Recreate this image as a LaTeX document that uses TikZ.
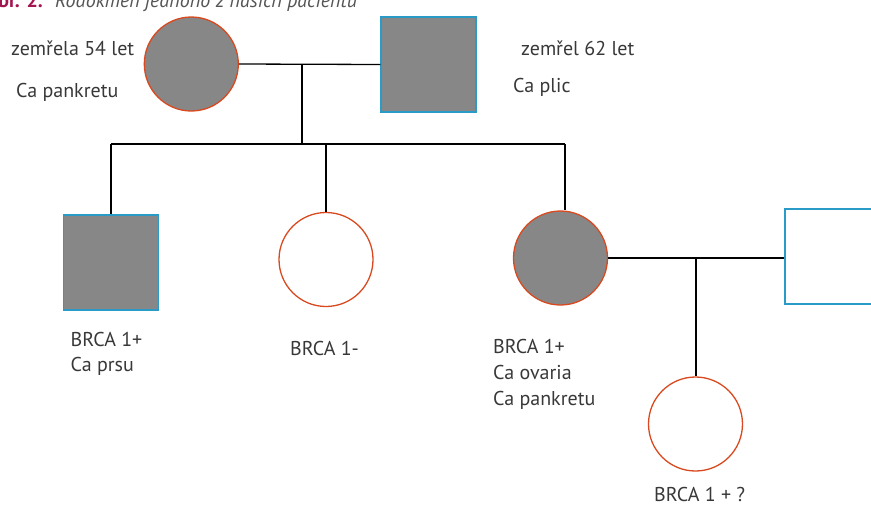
\documentclass[tikz,border=0pt]{standalone}
\usepackage{fontspec}
\setmainfont{PT Sans}
\definecolor{fem}{HTML}{D9491F}
\definecolor{mal}{HTML}{2A9BC6}
\definecolor{aff}{HTML}{878787}
\definecolor{txt}{HTML}{383838}
\definecolor{ttl}{HTML}{A3154F}
\definecolor{ttlg}{HTML}{555555}
\begin{document}
\begin{tikzpicture}[x=1pt,y=-1pt,
  female/.style={circle,draw=fem,line width=1.3pt,minimum size=94pt,inner sep=0pt},
  male/.style={rectangle,draw=mal,line width=1.3pt,minimum size=95pt,inner sep=0pt},
  affected/.style={fill=aff},
  link/.style={draw=black,line width=1.3pt},
  lbl/.style={anchor=base west,inner sep=0pt,text=txt,font=\fontsize{20}{24}\selectfont}]
\useasboundingbox (0,0) rectangle (871,504);
% title (cut off at top)
\node[anchor=base east,inner sep=0pt,text=ttl,font=\fontsize{20}{24}\selectfont\bfseries] (tnum) at (43,7) {Obr. 2.};
\node[anchor=base west,inner sep=0pt,text=ttlg,font=\fontsize{20}{24}\selectfont\itshape] (ttext) at (55,7) {Rodokmen jednoho z našich pacientů};
% generation I
\node[female,affected] (mom) at (191.3,64) {};
\node[male,affected] (dad) at (428.5,64.5) {};
% generation II
\node[male,affected] (son) at (111,262.5) {};
\node[female] (d2) at (326,259.5) {};
\node[female,affected] (d3) at (560.5,258) {};
\node[male,fill=white] (hus) at (832.5,256.5) {};
% generation III
\node[female] (gd) at (695.5,424) {};
% connectors
\coordinate (m1) at (302,64);
\coordinate (s0) at (302,144);
\coordinate (sl) at (111,144);
\coordinate (s2) at (326,144);
\coordinate (sr) at (565,144);
\coordinate (m2) at (696,258);
\draw[link] (mom.east) -- (dad.west);
\draw[link] (m1) -- (s0);
\draw[link] (sl) -- (sr);
\draw[link] (sl) -- (son.north);
\draw[link] (s2) -- (d2.north);
\draw[link] (sr) -- (sr |- d3.north);
\draw[link] (d3.east) -- (d3.east -| hus.west);
\draw[link] (m2) -- (m2 |- gd.north);
% labels
\node[lbl] (t1) at (11,55) {zemřela 54 let};
\node[lbl] (t2) at (16,97) {Ca pankretu};
\node[lbl] (t3) at (521,55) {zemřel 62 let};
\node[lbl] (t4) at (513,92.5) {Ca plic};
\node[lbl] (t5) at (70.5,346.5) {BRCA 1+};
\node[lbl] (t6) at (70.5,371.5) {Ca prsu};
\node[lbl] (t7) at (290,355) {BRCA 1-};
\node[lbl] (t8) at (493,353) {BRCA 1+};
\node[lbl] (t9) at (493,379.5) {Ca ovaria};
\node[lbl] (t10) at (493,405.5) {Ca pankretu};
\node[lbl] (t11) at (654,501.5) {BRCA 1 + ?};
\end{tikzpicture}
\end{document}
